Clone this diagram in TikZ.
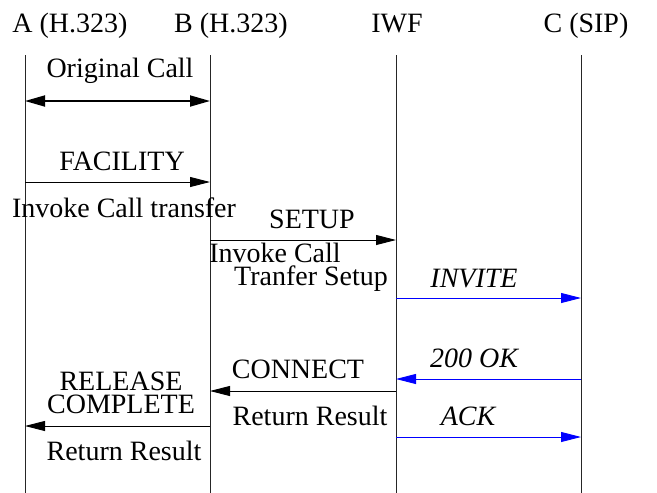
\documentclass[tikz,border=0pt]{standalone}
\usepackage{fontspec}
\setmainfont{Liberation Serif}
\usetikzlibrary{arrows.meta}
\begin{document}
\begin{tikzpicture}[x=1pt,y=-1pt,
  lbl/.style={anchor=base,inner sep=0pt,font=\fontsize{28}{30}\selectfont},
  ilbl/.style={lbl,font=\fontsize{28}{30}\selectfont\itshape},
  life/.style={line width=0.9pt,black!85},
  msg/.style={line width=0.9pt,-{Triangle[length=20pt,width=10pt]}},
  bmsg/.style={msg,blue},
  dmsg/.style={line width=1.8pt,{Triangle[length=20pt,width=11pt]}-{Triangle[length=20pt,width=11pt]}}]
\useasboundingbox (0,0) rectangle (657,493);
% headers
\node[lbl] (hA) at (70,32) {A (H.323)};
\node[lbl] (hB) at (231,32) {B (H.323)};
\node[lbl] (hI) at (397,32) {IWF};
\node[lbl] (hC) at (586,32) {C (SIP)};
% lifelines
\coordinate (At) at (25,55); \coordinate (Ab) at (25,493);
\coordinate (Bt) at (210,55); \coordinate (Bb) at (210,493);
\coordinate (It) at (396,55); \coordinate (Ib) at (396,493);
\coordinate (Ct) at (581,55); \coordinate (Cb) at (581,493);
\draw[life] (At) -- (Ab);
\draw[life] (Bt) -- (Bb);
\draw[life] (It) -- (Ib);
\draw[life] (Ct) -- (Cb);
% message end points
\coordinate (a1) at (25,101); \coordinate (b1) at (210,101);
\coordinate (a2) at (25,182); \coordinate (b2) at (210,182);
\coordinate (b3) at (210,240); \coordinate (i3) at (396,240);
\coordinate (i4) at (396,298); \coordinate (c4) at (581,298);
\coordinate (c5) at (581,379); \coordinate (i5) at (396,379);
\coordinate (i6) at (396,391); \coordinate (b6) at (210,391);
\coordinate (b7) at (210,426); \coordinate (a7) at (25,426);
\coordinate (i8) at (396,437); \coordinate (c8) at (581,437);
\draw[dmsg] (a1) -- (b1);
\draw[msg] (a2) -- (b2);
\draw[msg] (b3) -- (i3);
\draw[bmsg] (i4) -- (c4);
\draw[bmsg] (c5) -- (i5);
\draw[msg] (i6) -- (b6);
\draw[msg] (b7) -- (a7);
\draw[bmsg] (i8) -- (c8);
% labels
\node[lbl] (l1) at (120,77) {Original Call};
\node[lbl] (l2) at (122,170) {FACILITY};
\node[lbl] (l2b) at (124,217) {Invoke Call transfer};
\node[lbl] (l3) at (312,228) {SETUP};
\node[lbl] (l3b) at (275,262) {Invoke Call};
\node[lbl] (l3c) at (311,285) {Tranfer Setup};
\node[ilbl] (l4) at (474,287) {INVITE};
\node[ilbl] (l5) at (474,367) {200 OK};
\node[lbl] (l6) at (298,378) {CONNECT};
\node[lbl] (l6b) at (310,425) {Return Result};
\node[lbl] (l7) at (121,390) {RELEASE};
\node[lbl] (l7b) at (121,413) {COMPLETE};
\node[lbl] (l7c) at (124,460) {Return Result};
\node[ilbl] (l8) at (468,425) {ACK};
\end{tikzpicture}
\end{document}
